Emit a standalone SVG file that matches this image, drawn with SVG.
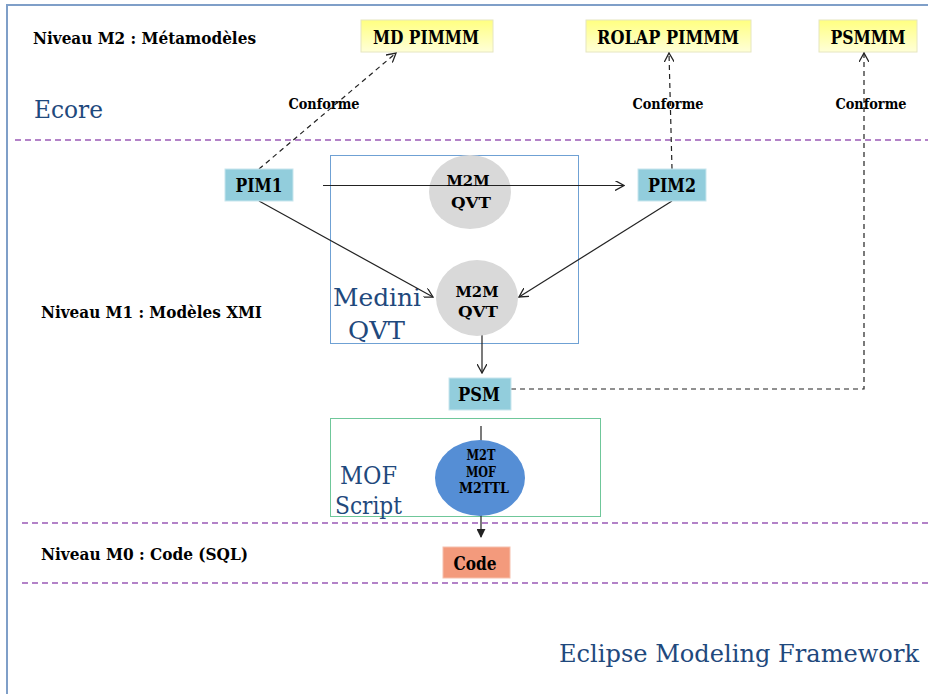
<svg xmlns="http://www.w3.org/2000/svg" width="928" height="694" viewBox="0 0 928 694">
<style>
.lbl{font-family:"DejaVu Serif","Liberation Serif",serif;font-weight:bold;fill:#000}
.lvl{font-size:16px}
.node{font-size:18px;text-anchor:middle}
.small{font-size:14px;text-anchor:middle}
.big{font-family:"DejaVu Serif","Liberation Serif",serif;fill:#1f497d;font-size:24px}
.sep{stroke:#9b59b6;stroke-width:1.3;stroke-dasharray:6 4;fill:none}
.solid{stroke:#222;stroke-width:1.2;fill:none}
.dash{stroke:#222;stroke-width:1.2;fill:none;stroke-dasharray:5 4}
.meta{fill:url(#yel);stroke:#e6e6c0;stroke-width:1}
.mdl{fill:#92cddc;stroke:#c8e6ee;stroke-width:1}
</style>
<defs>
<linearGradient id="yel" x1="0" y1="0" x2="0" y2="1">
<stop offset="0" stop-color="#ffff80"/>
<stop offset="1" stop-color="#ffffd8"/>
</linearGradient>
<marker id="open" viewBox="0 0 10 10" refX="9" refY="5" markerWidth="10" markerHeight="10" markerUnits="userSpaceOnUse" orient="auto">
<path d="M0,0 L9,5 L0,10" fill="none" stroke="#222" stroke-width="1.3"/>
</marker>
<marker id="fill" viewBox="0 0 10 10" refX="9" refY="5" markerWidth="9" markerHeight="9" markerUnits="userSpaceOnUse" orient="auto">
<path d="M0,0 L10,5 L0,10 z" fill="#222"/>
</marker>
</defs>
<rect width="928" height="694" fill="#fff"/>
<path d="M7,694 V5 H928" fill="none" stroke="#7f9fc8" stroke-width="2"/>
<g id="separators">
<line class="sep" x1="15" y1="140" x2="928" y2="140"/>
<line class="sep" x1="22" y1="523" x2="928" y2="523"/>
<line class="sep" x1="22" y1="583" x2="928" y2="583"/>
</g>
<g id="labels">
<text class="lbl lvl" x="33" y="44" textLength="223" lengthAdjust="spacingAndGlyphs">Niveau M2 : Métamodèles</text>
<text class="lbl lvl" x="41" y="318" textLength="221" lengthAdjust="spacingAndGlyphs">Niveau M1 : Modèles XMI</text>
<text class="lbl lvl" x="41" y="560" textLength="207" lengthAdjust="spacingAndGlyphs">Niveau M0 : Code (SQL)</text>
<text class="big" x="34" y="118" font-size="26" textLength="69" lengthAdjust="spacingAndGlyphs">Ecore</text>
<text class="big" x="559" y="662" textLength="360" lengthAdjust="spacingAndGlyphs">Eclipse Modeling Framework</text>
</g>
<g id="medini">
<rect x="330.5" y="155.5" width="248" height="188" fill="none" stroke="#6fa1d4" stroke-width="1"/>
<text class="big" x="333" y="306" textLength="88" lengthAdjust="spacingAndGlyphs">Medini</text>
<text class="big" x="348" y="339" textLength="57" lengthAdjust="spacingAndGlyphs">QVT</text>
</g>
<g id="mofscript">
<rect x="330.5" y="418.5" width="270" height="98" fill="none" stroke="#6fc79a" stroke-width="1"/>
<text class="big" x="340" y="484" font-size="22" textLength="57" lengthAdjust="spacingAndGlyphs">MOF</text>
<text class="big" x="335" y="514" font-size="22" textLength="67" lengthAdjust="spacingAndGlyphs">Script</text>
</g>
<g id="md-pimmm">
<rect class="meta" x="361" y="20" width="132" height="32"/>
<text class="lbl node" x="426" y="44" textLength="106" lengthAdjust="spacingAndGlyphs">MD PIMMM</text>
</g>
<g id="rolap-pimmm">
<rect class="meta" x="586" y="20" width="165" height="32"/>
<text class="lbl node" x="668" y="44" textLength="142" lengthAdjust="spacingAndGlyphs">ROLAP PIMMM</text>
</g>
<g id="psmmm">
<rect class="meta" x="819" y="20" width="98" height="32"/>
<text class="lbl node" x="868" y="44" textLength="75" lengthAdjust="spacingAndGlyphs">PSMMM</text>
</g>
<g id="m2m-qvt-1">
<ellipse cx="470" cy="192" rx="41" ry="37" fill="#d9d9d9"/>
</g>
<g id="connectors">
<line class="dash" x1="259" y1="169" x2="396" y2="53" marker-end="url(#open)"/>
<line class="dash" x1="672" y1="169" x2="669" y2="53" marker-end="url(#open)"/>
<polyline class="dash" points="511,389 864,389 864,53" marker-end="url(#open)"/>
<line class="solid" x1="323" y1="185.5" x2="624" y2="185.5" marker-end="url(#open)"/>
<line class="solid" x1="259" y1="201" x2="433" y2="297" marker-end="url(#open)"/>
<line class="solid" x1="672" y1="201" x2="519" y2="297" marker-end="url(#open)"/>
<line class="solid" x1="482" y1="335" x2="482" y2="373" marker-end="url(#open)"/>
<line class="solid" x1="481" y1="426" x2="481" y2="442"/>
<line class="solid" x1="481" y1="514" x2="481" y2="537" marker-end="url(#fill)"/>
</g>
<g id="conforme-labels">
<text class="lbl small" x="324" y="109" textLength="71" lengthAdjust="spacingAndGlyphs">Conforme</text>
<text class="lbl small" x="668" y="109" textLength="71" lengthAdjust="spacingAndGlyphs">Conforme</text>
<text class="lbl small" x="871" y="109" textLength="71" lengthAdjust="spacingAndGlyphs">Conforme</text>
</g>
<g id="m2m-qvt-1-label">
<text class="lbl small" x="468" y="186" font-size="16" textLength="43" lengthAdjust="spacingAndGlyphs">M2M</text>
<text class="lbl small" x="471" y="208" font-size="16" textLength="40" lengthAdjust="spacingAndGlyphs">QVT</text>
</g>
<g id="pim1">
<rect class="mdl" x="225" y="169" width="68" height="32"/>
<text class="lbl node" x="259" y="192" textLength="47" lengthAdjust="spacingAndGlyphs">PIM1</text>
</g>
<g id="pim2">
<rect class="mdl" x="638" y="169" width="68" height="32"/>
<text class="lbl node" x="672" y="192" textLength="48" lengthAdjust="spacingAndGlyphs">PIM2</text>
</g>
<g id="m2m-qvt-2">
<ellipse cx="477" cy="298" rx="41" ry="38" fill="#d9d9d9"/>
<text class="lbl small" x="477" y="297" font-size="16" textLength="43" lengthAdjust="spacingAndGlyphs">M2M</text>
<text class="lbl small" x="478" y="317" font-size="16" textLength="40" lengthAdjust="spacingAndGlyphs">QVT</text>
</g>
<g id="psm">
<rect class="mdl" x="449" y="378" width="62" height="32"/>
<text class="lbl node" x="479" y="401" textLength="42" lengthAdjust="spacingAndGlyphs">PSM</text>
</g>
<g id="m2t-mof">
<ellipse cx="480" cy="478" rx="45" ry="38" fill="#558ed5"/>
<text class="lbl small" x="481" y="460" font-size="13" textLength="29" lengthAdjust="spacingAndGlyphs">M2T</text>
<text class="lbl small" x="481" y="477" font-size="13" textLength="30" lengthAdjust="spacingAndGlyphs">MOF</text>
<text class="lbl small" x="484" y="493" font-size="13" textLength="50" lengthAdjust="spacingAndGlyphs">M2TTL</text>
</g>
<g id="code">
<rect x="443" y="547" width="67" height="31" fill="#f39a7c" stroke="#f6c0ad" stroke-width="1"/>
<text class="lbl node" x="475" y="570" textLength="43" lengthAdjust="spacingAndGlyphs">Code</text>
</g>
</svg>
